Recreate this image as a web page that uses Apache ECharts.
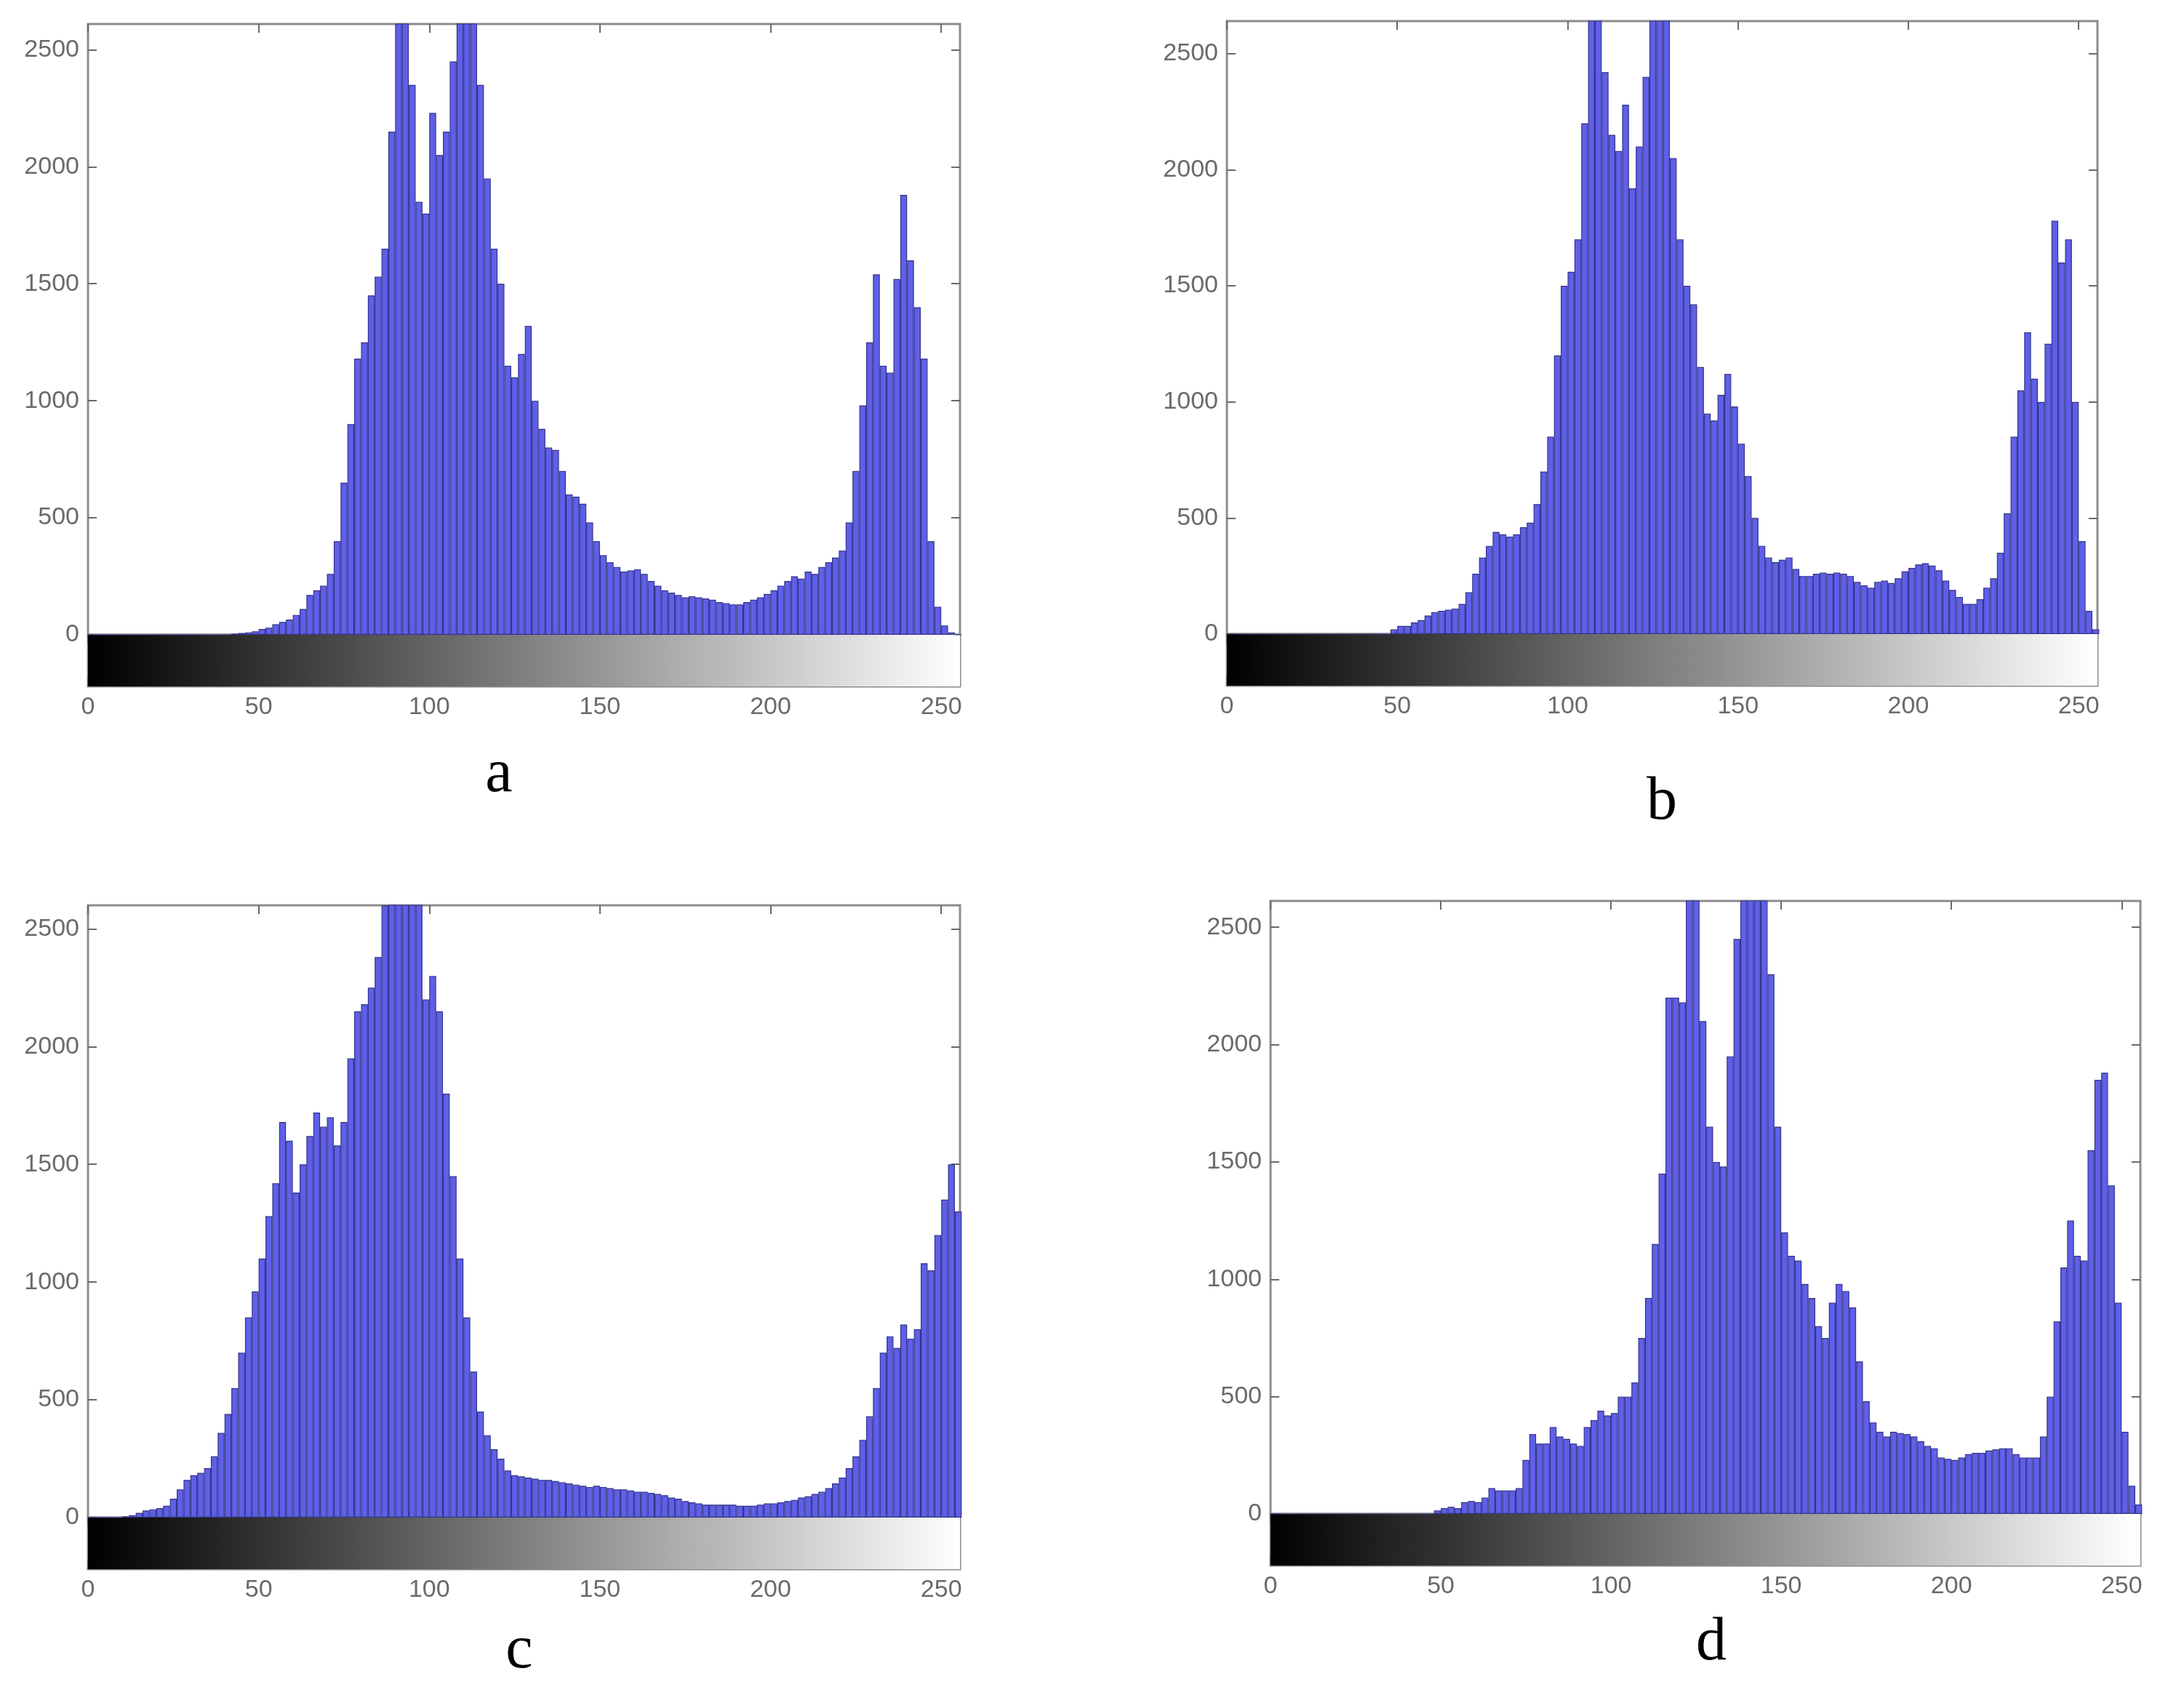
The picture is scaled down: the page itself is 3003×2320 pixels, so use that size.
<!DOCTYPE html>
<html>
<head>
<meta charset="utf-8">
<title>Histograms a-d</title>
<script src="https://cdn.jsdelivr.net/npm/echarts@6/dist/echarts.min.js"></script>
<style>
  html, body { margin: 0; padding: 0; background: #fff; }
  #chart { width: 3003px; height: 2320px; }
</style>
</head>
<body>
<div id="chart"></div>
<script>
// grey level bins, two levels per bar (centres 1, 3, ..., 255)
const bins = Array.from({ length: 128 }, (_, i) => 2 * i + 1);

const countsA = [
  0, 0, 0, 0, 0, 0, 0, 0, 0, 0, 0, 0, 0, 0, 0, 0, 0, 0, 0, 0,
  0, 5, 8, 10, 15, 25, 30, 45, 55, 65,
  85, 110, 170, 190, 210, 260, 400, 650, 900, 1180,
  1250, 1450, 1530, 1650, 2150, 2750, 2750, 2350, 1850, 1800,
  2230, 2050, 2150, 2450, 2700, 2750, 2700, 2350, 1950, 1650,
  1500, 1150, 1100, 1200, 1320, 1000, 880, 800, 790, 700,
  600, 590, 560, 480, 400, 340, 310, 290, 270, 275,
  280, 260, 230, 210, 190, 180, 170, 160, 165, 160,
  155, 150, 140, 135, 130, 130, 140, 150, 160, 175,
  190, 210, 230, 250, 240, 270, 260, 290, 310, 330,
  360, 480, 700, 980, 1250, 1540, 1150, 1120, 1520, 1880,
  1600, 1400, 1180, 400, 120, 40, 10, 0
];

const countsB = [
  0, 0, 0, 0, 0, 0, 0, 0, 0, 0, 0, 0, 0, 0, 0, 0, 0, 0, 0, 0, 0, 0, 0, 0,
  20, 35, 35, 50, 60, 80, 95, 100, 105, 110,
  130, 180, 260, 330, 380, 440, 430, 420, 430, 460,
  480, 560, 700, 850, 1200, 1500, 1560, 1700, 2200, 2650,
  2700, 2420, 2150, 2080, 2280, 1920, 2100, 2400, 2750, 2750,
  2650, 2050, 1700, 1500, 1420, 1150, 950, 920, 1030, 1120,
  980, 820, 680, 500, 380, 330, 310, 320, 330, 280,
  250, 250, 260, 265, 260, 265, 260, 250, 225, 210,
  200, 225, 230, 220, 240, 270, 285, 300, 305, 295,
  275, 230, 190, 160, 130, 130, 150, 200, 240, 350,
  520, 850, 1050, 1300, 1100, 1000, 1250, 1780, 1600, 1700,
  1000, 400, 100, 20
];

const countsC = [
  0, 0, 0, 0, 0, 5, 10, 20, 30, 35,
  40, 50, 80, 120, 160, 180, 190, 210, 260, 360,
  440, 550, 700, 850, 960, 1100, 1280, 1420, 1680, 1600,
  1380, 1500, 1620, 1720, 1660, 1700, 1580, 1680, 1950, 2150,
  2180, 2250, 2380, 2600, 2750, 2750, 2750, 2750, 2700, 2200,
  2300, 2150, 1800, 1450, 1100, 850, 620, 450, 350, 290,
  250, 200, 180, 175, 170, 165, 160, 160, 155, 150,
  145, 140, 135, 130, 135, 130, 125, 120, 120, 115,
  110, 110, 105, 100, 95, 85, 80, 70, 65, 60,
  55, 55, 55, 55, 55, 50, 50, 50, 55, 60,
  60, 65, 70, 75, 85, 90, 100, 110, 125, 145,
  170, 210, 260, 330, 430, 550, 700, 770, 720, 820,
  760, 800, 1080, 1050, 1200, 1350, 1500, 1300
];

const countsD = [
  0, 0, 0, 0, 0, 0, 0, 0, 0, 0, 0, 0, 0, 0, 0, 0, 0, 0, 0, 0, 0, 0, 0, 0,
  15, 25, 30, 25, 50, 55, 50, 70, 110, 100,
  100, 100, 110, 230, 340, 300, 300, 370, 330, 320,
  300, 290, 370, 400, 440, 420, 430, 500, 500, 560,
  750, 920, 1150, 1450, 2200, 2200, 2180, 2750, 2700, 2100,
  1650, 1500, 1480, 1950, 2450, 2750, 2750, 2750, 2700, 2300,
  1650, 1200, 1100, 1080, 980, 920, 800, 750, 900, 980,
  950, 880, 650, 480, 390, 350, 330, 350, 345, 340,
  330, 310, 290, 280, 240, 235, 230, 240, 255, 260,
  260, 270, 275, 280, 280, 255, 240, 240, 240, 330,
  500, 820, 1050, 1250, 1100, 1080, 1550, 1850, 1880, 1400,
  900, 350, 120, 40
];

const xTicks = [0, 50, 100, 150, 200, 250];
const yTicks = [0, 500, 1000, 1500, 2000, 2500];
const panelNames = ['a', 'b', 'c', 'd'];
const panelCounts = [countsA, countsB, countsC, countsD];
const yMax = [2610, 2640, 2600, 2612];
const xMax = 255.5;

// pixel layout of each panel: box edges, zero line, bottom of the grey strip, caption
const boxes = [
  { left: 121, right: 1320, top: 33, zero: 873, bottom: 944, cap: [686, 1066] },
  { left: 1687, right: 2884, top: 29, zero: 872, bottom: 943, cap: [2285, 1104] },
  { left: 121, right: 1320, top: 1245, zero: 2087, bottom: 2158, cap: [714, 2271] },
  { left: 1747, right: 2943, top: 1239, zero: 2082, bottom: 2153, cap: [2353, 2260] }
];

const chart = echarts.init(document.getElementById('chart'), null, { renderer: 'canvas' });

const tickStyle = { color: '#6a6a6a', width: 2 };
const labelStyle = { color: '#6a6a6a', fontSize: 34, fontFamily: 'Liberation Sans',
  formatter: (v) => String(v) };
const frame = { show: true, borderColor: '#8c8c8c', borderWidth: 3, backgroundColor: '#fff' };
const noLine = { show: false, onZero: false };

const grid = [];
const xAxis = [];
const yAxis = [];
const series = [];
const graphic = [];

boxes.forEach((b, i) => {
  const width = b.right - b.left;
  const gHist = grid.length;
  grid.push(Object.assign({ left: b.left, top: b.top, width: width, height: b.zero - b.top }, frame));
  const gStrip = grid.length;
  grid.push(Object.assign({ left: b.left, top: b.zero, width: width, height: b.bottom - b.zero }, frame));

  const xBase = { type: 'value', min: 0, max: xMax, axisLine: noLine, splitLine: { show: false } };
  const xHist = xAxis.length;
  xAxis.push(Object.assign({}, xBase, { gridIndex: gHist, position: 'bottom',
    axisTick: { show: false }, axisLabel: { show: false } }));
  xAxis.push(Object.assign({}, xBase, { gridIndex: gHist, position: 'top',
    axisTick: { inside: true, length: 12, lineStyle: tickStyle, customValues: xTicks },
    axisLabel: { show: false } }));
  const xStrip = xAxis.length;
  xAxis.push(Object.assign({}, xBase, { gridIndex: gStrip, position: 'bottom',
    axisTick: { inside: true, length: 12, lineStyle: tickStyle, customValues: xTicks },
    axisLabel: Object.assign({ margin: 12, customValues: xTicks }, labelStyle) }));
  xAxis.push(Object.assign({}, xBase, { gridIndex: gStrip, position: 'top',
    axisTick: { inside: true, length: 12, lineStyle: tickStyle, customValues: xTicks },
    axisLabel: { show: false } }));

  const yHist = yAxis.length;
  yAxis.push({ type: 'value', gridIndex: gHist, min: 0, max: yMax[i], position: 'left',
    axisLine: noLine, splitLine: { show: false },
    axisTick: { inside: true, length: 12, lineStyle: tickStyle, customValues: yTicks },
    axisLabel: Object.assign({ margin: 12, customValues: yTicks }, labelStyle) });
  yAxis.push({ type: 'value', gridIndex: gHist, min: 0, max: yMax[i], position: 'right',
    axisLine: noLine, splitLine: { show: false },
    axisTick: { inside: true, length: 12, lineStyle: tickStyle, customValues: yTicks },
    axisLabel: { show: false } });
  const yStrip = yAxis.length;
  yAxis.push({ type: 'value', gridIndex: gStrip, min: 0, max: 1, position: 'right',
    axisLine: noLine, splitLine: { show: false },
    axisTick: { inside: true, length: 12, lineStyle: tickStyle, customValues: [0.5] },
    axisLabel: { show: false } });

  series.push({
    name: panelNames[i],
    type: 'bar',
    xAxisIndex: xHist,
    yAxisIndex: yHist,
    barWidth: '100%',
    clip: true,
    silent: true,
    itemStyle: { color: '#5f5fe8', borderColor: '#34348a', borderWidth: 1.2 },
    data: bins.map((x, k) => [x, panelCounts[i][k]])
  });

  // grey level strip under the histogram
  series.push({
    type: 'line',
    xAxisIndex: xStrip,
    yAxisIndex: yStrip,
    data: [],
    silent: true,
    markArea: {
      silent: true,
      label: { show: false },
      itemStyle: {
        color: new echarts.graphic.LinearGradient(0, 0, 1, 0, [
          { offset: 0, color: '#000' },
          { offset: 1, color: '#fff' }
        ])
      },
      data: [[{ coord: [0, 0] }, { coord: [xMax, 1] }]]
    }
  });

  graphic.push({
    type: 'text',
    x: b.cap[0],
    y: b.cap[1],
    style: {
      text: panelNames[i],
      font: '84px "Liberation Serif"',
      fill: '#000',
      textAlign: 'center',
      textVerticalAlign: 'middle'
    }
  });
});

chart.setOption({
  animation: false,
  backgroundColor: '#fff',
  grid: grid,
  xAxis: xAxis,
  yAxis: yAxis,
  series: series,
  graphic: graphic
});
</script>
</body>
</html>
